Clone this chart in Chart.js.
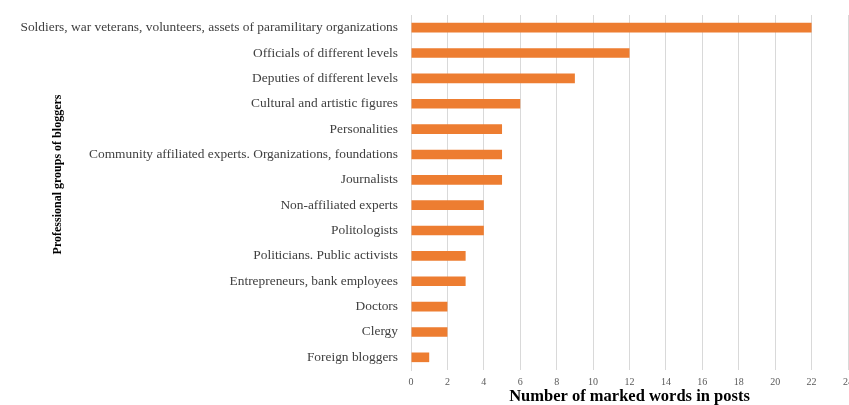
<!DOCTYPE html>
<html>
<head>
<meta charset="utf-8">
<script src="https://cdn.jsdelivr.net/npm/chart.js@4.4.1/dist/chart.umd.min.js"></script>
<style>
  html, body { margin: 0; padding: 0; background: #fff; overflow: hidden; }
  .wrap { width: 849px; height: 405px; overflow: hidden; }
  .box { position: relative; width: 870px; height: 405px; }
</style>
</head>
<body>
<div class="wrap"><div class="box"><canvas id="chart"></canvas></div></div>
<script>
/* ── Data ── */
var groups = [
  'Soldiers, war veterans, volunteers, assets of paramilitary organizations',
  'Officials of different levels',
  'Deputies of different levels',
  'Cultural and artistic figures',
  'Personalities',
  'Community affiliated experts. Organizations, foundations',
  'Journalists',
  'Non-affiliated experts',
  'Politologists',
  'Politicians. Public activists',
  'Entrepreneurs, bank employees',
  'Doctors',
  'Clergy',
  'Foreign bloggers'
];
var wordCounts = [22, 12, 9, 6, 5, 5, 5, 4, 4, 3, 3, 2, 2, 1];
var xTicks = [0, 2, 4, 6, 8, 10, 12, 14, 16, 18, 20, 22, 24];

var serif = '"Liberation Serif", "DejaVu Serif", serif';
// leading spaces nudge the rotated axis title up a little, as in the original
var yTitle = '\u00a0'.repeat(12) + 'Professional groups of bloggers';

new Chart(document.getElementById('chart'), {
  type: 'bar',
  data: {
    labels: groups,
    datasets: [{
      data: wordCounts,
      backgroundColor: '#ED7D31',
      categoryPercentage: 1,
      barPercentage: 0.38
    }]
  },
  options: {
    indexAxis: 'y',
    responsive: true,
    maintainAspectRatio: false,
    animation: false,
    layout: { padding: { left: 0, right: 22, top: 15, bottom: 0 } },
    plugins: { legend: { display: false }, tooltip: { enabled: false } },
    scales: {
      x: {
        min: 0,
        max: 24,
        afterBuildTicks: function(scale) {
          scale.ticks = xTicks.map(function(v) { return { value: v }; });
        },
        // fixed band under the plot for ticks + title
        afterFit: function(scale) { scale.height = 35; },
        grid: { color: '#d9d9d9', drawTicks: false },
        border: { display: false },
        ticks: { color: '#595959', font: { family: serif, size: 10 }, padding: 6 },
        title: {
          display: true,
          text: 'Number of marked words in posts',
          color: '#000',
          font: { family: serif, size: 16.5, weight: 'bold', lineHeight: 1 },
          padding: { top: 0, bottom: 0 }
        }
      },
      y: {
        afterFit: function(scale) { scale.width = 411; },
        grid: { display: false },
        border: { display: true, color: '#d9d9d9' },
        ticks: { color: '#404040', font: { family: serif, size: 13.4 }, padding: 5 },
        title: {
          display: true,
          text: yTitle,
          color: '#000',
          font: { family: serif, size: 12, weight: 'bold' },
          padding: { top: 51, bottom: 0 }
        }
      }
    }
  }
});
</script>
</body>
</html>
